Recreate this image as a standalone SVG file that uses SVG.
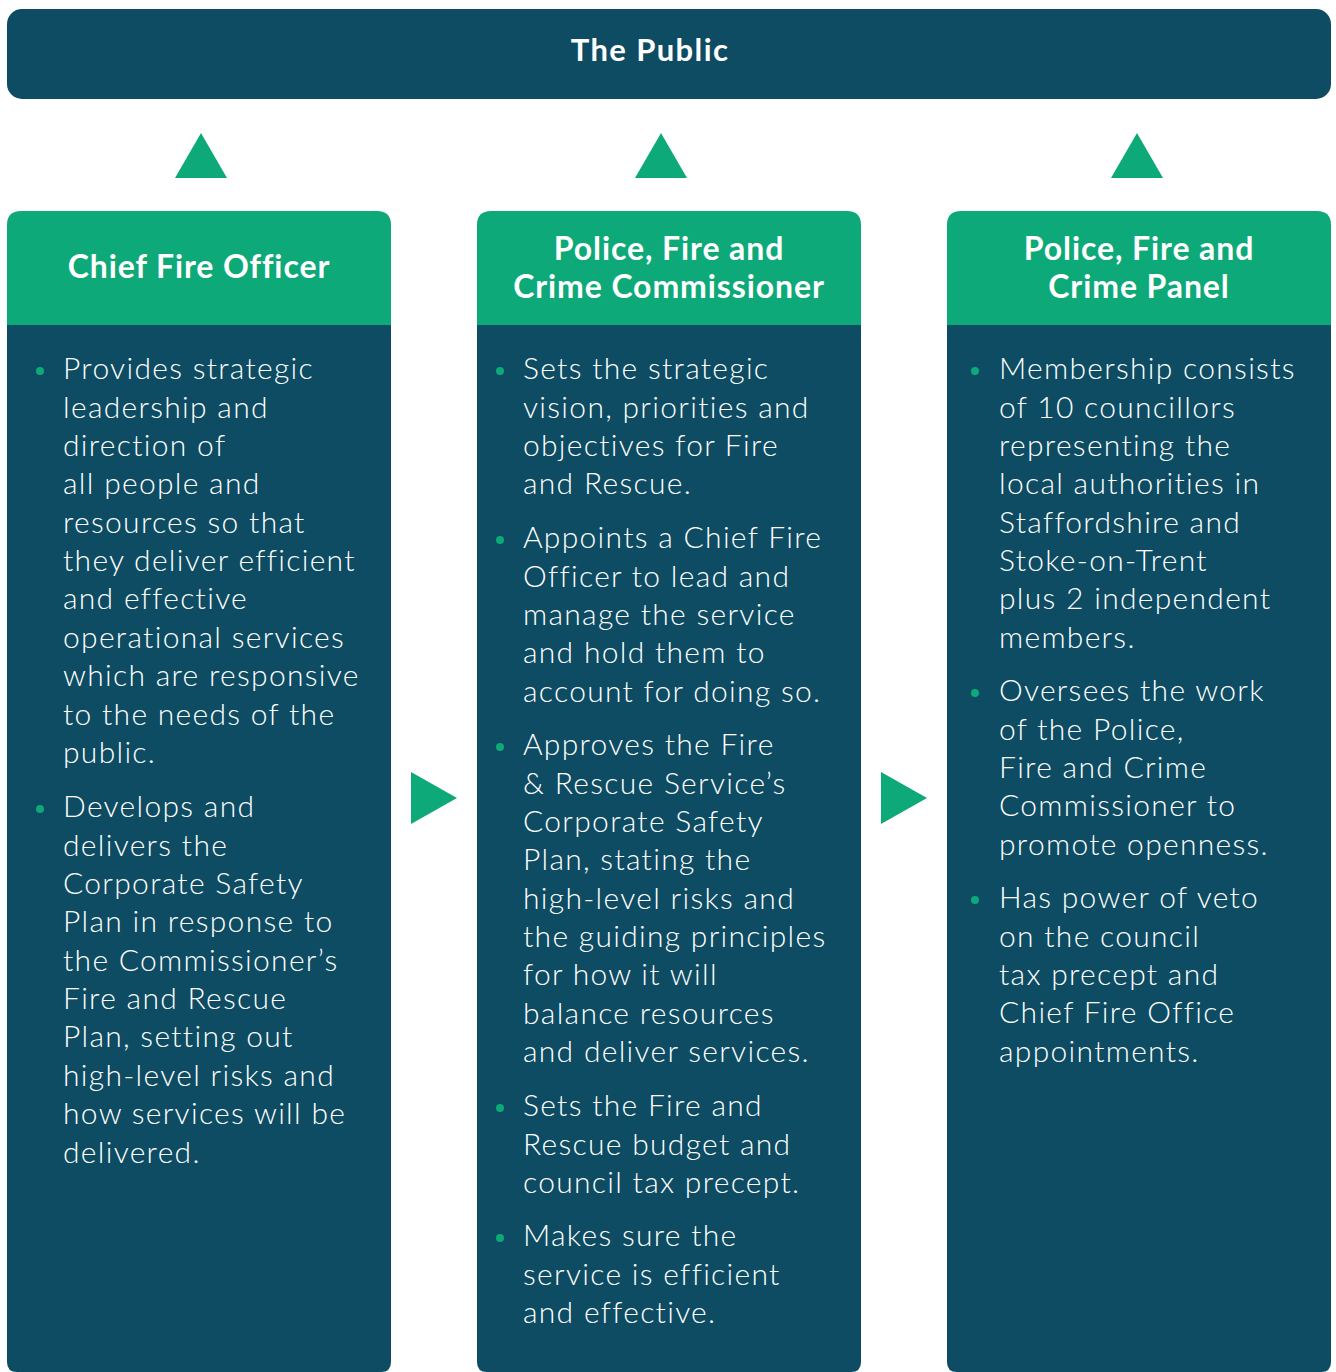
<svg xmlns="http://www.w3.org/2000/svg" width="1336" height="1372" viewBox="0 0 1336 1372">
<style>
.dark{fill:#0d4c63}
.green{fill:#0ea978}
.title{font-family:Lato,"Open Sans",sans-serif;font-weight:700;fill:#fff;text-anchor:middle}
.h{font-size:32px;letter-spacing:0.9px}
.body{font-family:Lato,"Open Sans",sans-serif;font-weight:300;font-size:30px;letter-spacing:1.3px;fill:#fff}
.dot{fill:#0ea978}
</style>
<rect width="1336" height="1372" fill="#fff"/>
<g id="public">
<rect class="dark" x="7" y="9" width="1324" height="90" rx="15"/>
<text class="title" x="650" y="61" font-size="31" letter-spacing="1.4">The Public</text>
</g>
<g id="connectors">
<polygon class="green" points="175,178 201,133 227,178"/>
<polygon class="green" points="635,178 661,133 687,178"/>
<polygon class="green" points="1111,178 1137,133 1163,178"/>
<polygon class="green" points="411,772 457,798 411,824"/>
<polygon class="green" points="881,772 927,798 881,824"/>
</g>
<g id="chief-fire-officer">
<path class="dark" d="M7,324 H391 V1362 Q391,1372 381,1372 H17 Q7,1372 7,1362 Z"/>
<path class="green" d="M7,325 V225 Q7,211 21,211 H377 Q391,211 391,225 V325 Z"/>
<text class="title h" x="199" y="278">Chief Fire Officer</text>
<circle class="dot" cx="40" cy="371" r="4"/>
<circle class="dot" cx="40" cy="809" r="4"/>
<text class="body">
<tspan x="63" y="379">Provides strategic</tspan>
<tspan x="63" y="418">leadership and</tspan>
<tspan x="63" y="456">direction of</tspan>
<tspan x="63" y="494">all people and</tspan>
<tspan x="63" y="533">resources so that</tspan>
<tspan x="63" y="571">they deliver efficient</tspan>
<tspan x="63" y="609">and effective</tspan>
<tspan x="63" y="648">operational services</tspan>
<tspan x="63" y="686">which are responsive</tspan>
<tspan x="63" y="725">to the needs of the</tspan>
<tspan x="63" y="763">public.</tspan>
<tspan x="63" y="817">Develops and</tspan>
<tspan x="63" y="856">delivers the</tspan>
<tspan x="63" y="894">Corporate Safety</tspan>
<tspan x="63" y="932">Plan in response to</tspan>
<tspan x="63" y="971">the Commissioner’s</tspan>
<tspan x="63" y="1009">Fire and Rescue</tspan>
<tspan x="63" y="1047">Plan, setting out</tspan>
<tspan x="63" y="1086">high-level risks and</tspan>
<tspan x="63" y="1124">how services will be</tspan>
<tspan x="63" y="1163">delivered.</tspan>
</text>
</g>
<g id="commissioner">
<path class="dark" d="M477,324 H861 V1362 Q861,1372 851,1372 H487 Q477,1372 477,1362 Z"/>
<path class="green" d="M477,325 V225 Q477,211 491,211 H847 Q861,211 861,225 V325 Z"/>
<text class="title h"><tspan x="669" y="260">Police, Fire and</tspan><tspan x="669" y="298">Crime Commissioner</tspan></text>
<circle class="dot" cx="500" cy="371" r="4"/>
<circle class="dot" cx="500" cy="540" r="4"/>
<circle class="dot" cx="500" cy="747" r="4"/>
<circle class="dot" cx="500" cy="1108" r="4"/>
<circle class="dot" cx="500" cy="1238" r="4"/>
<text class="body">
<tspan x="523" y="379">Sets the strategic</tspan>
<tspan x="523" y="418">vision, priorities and</tspan>
<tspan x="523" y="456">objectives for Fire</tspan>
<tspan x="523" y="494">and Rescue.</tspan>
<tspan x="523" y="548">Appoints a Chief Fire</tspan>
<tspan x="523" y="587">Officer to lead and</tspan>
<tspan x="523" y="625">manage the service</tspan>
<tspan x="523" y="663">and hold them to</tspan>
<tspan x="523" y="702">account for doing so.</tspan>
<tspan x="523" y="755">Approves the Fire</tspan>
<tspan x="523" y="794">&amp; Rescue Service’s</tspan>
<tspan x="523" y="832">Corporate Safety</tspan>
<tspan x="523" y="870">Plan, stating the</tspan>
<tspan x="523" y="909">high-level risks and</tspan>
<tspan x="523" y="947">the guiding principles</tspan>
<tspan x="523" y="985">for how it will</tspan>
<tspan x="523" y="1024">balance resources</tspan>
<tspan x="523" y="1062">and deliver services.</tspan>
<tspan x="523" y="1116">Sets the Fire and</tspan>
<tspan x="523" y="1155">Rescue budget and</tspan>
<tspan x="523" y="1193">council tax precept.</tspan>
<tspan x="523" y="1246">Makes sure the</tspan>
<tspan x="523" y="1285">service is efficient</tspan>
<tspan x="523" y="1323">and effective.</tspan>
</text>
</g>
<g id="panel">
<path class="dark" d="M947,324 H1331 V1362 Q1331,1372 1321,1372 H957 Q947,1372 947,1362 Z"/>
<path class="green" d="M947,325 V225 Q947,211 961,211 H1317 Q1331,211 1331,225 V325 Z"/>
<text class="title h"><tspan x="1139" y="260">Police, Fire and</tspan><tspan x="1139" y="298">Crime Panel</tspan></text>
<circle class="dot" cx="975" cy="371" r="4"/>
<circle class="dot" cx="975" cy="693" r="4"/>
<circle class="dot" cx="975" cy="900" r="4"/>
<text class="body">
<tspan x="999" y="379">Membership consists</tspan>
<tspan x="999" y="418">of 10 councillors</tspan>
<tspan x="999" y="456">representing the</tspan>
<tspan x="999" y="494">local authorities in</tspan>
<tspan x="999" y="533">Staffordshire and</tspan>
<tspan x="999" y="571">Stoke-on-Trent</tspan>
<tspan x="999" y="609">plus 2 independent</tspan>
<tspan x="999" y="648">members.</tspan>
<tspan x="999" y="701">Oversees the work</tspan>
<tspan x="999" y="740">of the Police,</tspan>
<tspan x="999" y="778">Fire and Crime</tspan>
<tspan x="999" y="816">Commissioner to</tspan>
<tspan x="999" y="855">promote openness.</tspan>
<tspan x="999" y="908">Has power of veto</tspan>
<tspan x="999" y="947">on the council</tspan>
<tspan x="999" y="985">tax precept and</tspan>
<tspan x="999" y="1023">Chief Fire Office</tspan>
<tspan x="999" y="1062">appointments.</tspan>
</text>
</g>
</svg>
